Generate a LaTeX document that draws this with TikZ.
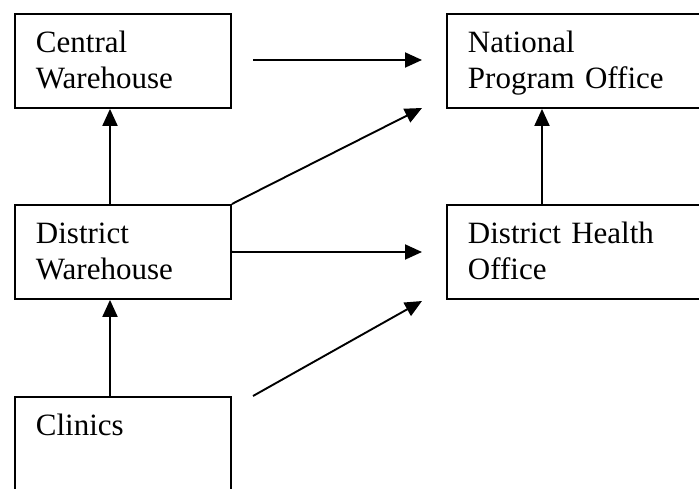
\documentclass[tikz,border=0pt]{standalone}
\usepackage{fontspec}
\setmainfont{Liberation Serif}
\usetikzlibrary{arrows.meta}

\begin{document}
\begin{tikzpicture}[x=1pt,y=-1pt,
    box/.style={draw, line width=1.9pt, anchor=north west, align=left,
      inner xsep=21pt, inner ysep=0pt, text height=39pt, text depth=55pt,
      font=\fontsize{31}{36}\selectfont},
    leftbox/.style={box, text width=174pt},
    rightbox/.style={box, text width=222pt},
    link/.style={line width=1.9pt, -{Triangle[length=17pt,width=15pt]}}]
  \useasboundingbox (0,0) rectangle (699,489);
  \clip (0,0) rectangle (699,489);

  % the five offices
  \node[leftbox]  (cw)  at (14,13)  {Central\\Warehouse};
  \node[rightbox] (npo) at (446,13) {National\\Program Office};
  \node[leftbox]  (dw)  at (14,204) {District\\Warehouse};
  \node[rightbox] (dho) at (446,204) {District Health\\Office};
  \node[leftbox, text depth=110pt] (cl) at (14,396) {Clinics};

  % loose ends of the reporting arrows
  \coordinate (cwOut)  at (253,60);
  \coordinate (npoIn)  at (422,60);
  \coordinate (npoIn2) at (422,108);
  \coordinate (dhoIn)  at (422,252);
  \coordinate (clOut)  at (253,396);
  \coordinate (dhoIn2) at (422,301);

  \draw[link] ([xshift=96pt]dw.north west) -- ([xshift=96pt]cw.south west);
  \draw[link] ([xshift=96pt]cl.north west) -- ([xshift=96pt]dw.south west);
  \draw[link] ([xshift=96pt]dho.north west) -- ([xshift=96pt]npo.south west);
  \draw[link] (cwOut) -- (npoIn);
  \draw[link] (dw.north east) -- (npoIn2);
  \draw[link] (dw.east) -- (dhoIn);
  \draw[link] (clOut) -- (dhoIn2);
\end{tikzpicture}
\end{document}
